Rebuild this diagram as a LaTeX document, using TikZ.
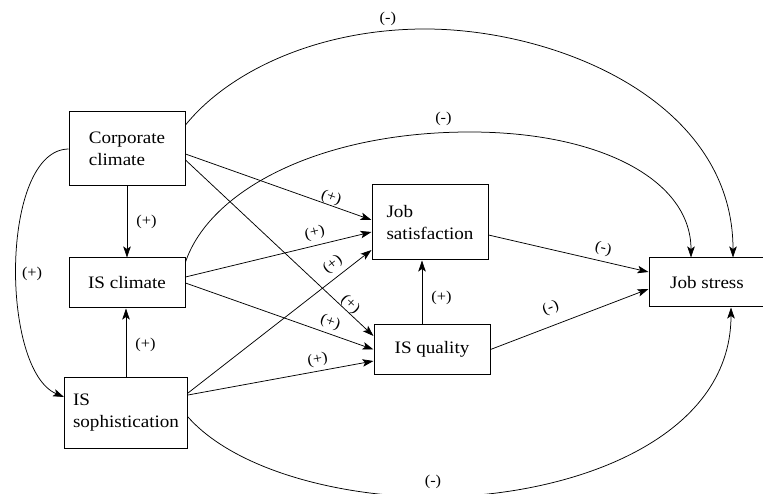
\documentclass[tikz,border=0pt]{standalone}
\usepackage{fontspec}
\setmainfont{Liberation Serif}[FakeStretch=1.09]
\usetikzlibrary{arrows.meta}
\usetikzlibrary{positioning}
\tikzstyle{factor} = [rectangle, draw=black, line width=1pt, minimum height=50pt, align=left, font=\fontsize{17.5}{22}\selectfont]
\tikzstyle{sign} = [font=\fontsize{15}{16}\selectfont, inner sep=1pt]
\tikzstyle{effect} = [line width=0.75pt, -{Stealth[length=11pt,width=7.5pt,inset=2.5pt]}]

\begin{document}
\begin{tikzpicture}[x=1pt, y=-1pt]
  \useasboundingbox (0,0) rectangle (763,494);

  \node (cc) [factor, minimum width=116pt, minimum height=74pt] at (127,149) {Corporate\\climate};
  \node (isc) [factor, minimum width=116pt] at (127,283) {IS climate};
  \node (iss) [factor, minimum width=123pt, minimum height=71pt] at (126,412.5) {IS\\sophistication};
  \node (js) [factor, minimum width=116pt, minimum height=75pt] at (430,222.5) {Job\\satisfaction};
  \node (isq) [factor, minimum width=116pt, minimum height=49pt] at (432,349.5) {IS quality};
  \node (jst) [factor, minimum width=116pt, minimum height=49pt] at (707,282.5) {Job stress};

  % vertical links
  \draw[effect] (cc) -- (isc) node[sign, midway, right=8pt] {(+)};
  \draw[effect] (iss.north) -- (iss.north |- isc.south) node[sign, pos=0.46, right=8pt] {(+)};
  \draw[effect] ([xshift=-10pt]isq.north) -- ([xshift=-10pt]isq.north |- js.south) node[sign, pos=0.42, right=8pt] {(+)};

  % into job satisfaction and IS quality
  \draw[effect] ([yshift=-5pt]cc.east) -- ([yshift=2.5pt]js.west) node[sign, pos=0.77, sloped, above=-1pt] {(+)};
  \draw[effect] ([yshift=-11pt]cc.east) -- ([yshift=13.5pt]isq.west) node[sign, pos=0.85, sloped, above=-1pt] {(+)};
  \draw[effect] ([yshift=6pt]isc.east) -- ([yshift=-9.5pt]js.west) node[sign, pos=0.71, sloped, above=4pt] {(+)};
  \draw[effect] (isc.east) -- (isq.west) node[sign, pos=0.75, sloped, above=3pt] {(+)};
  \draw[effect] ([yshift=19.5pt]iss.east) -- ([yshift=-27.5pt]js.west) node[sign, pos=0.83, sloped, above=4pt] {(+)};
  \draw[effect] ([yshift=17.5pt]iss.east) -- ([yshift=-11.5pt]isq.west) node[sign, pos=0.71, sloped, above=3pt] {(+)};

  % into job stress
  \draw[effect] ([yshift=-12.5pt]js.east) -- ([yshift=10.5pt]jst.west) node[sign, pos=0.7, sloped, above=4pt] {(-)};
  \draw[effect] (isq.east) -- ([yshift=-6.5pt]jst.west) node[sign, pos=0.42, sloped, above=9pt] {(-)};

  % long curves
  \draw[effect] ([yshift=24pt]cc.east) .. controls (230,70) and (320,29) .. (425,29) node[sign, pos=0.88, above=4pt] {(-)}
    .. controls (555,29) and (733,100) .. ([xshift=26pt]jst.north);
  \draw[effect] ([yshift=21pt]isc.east) .. controls (210,190) and (320,132) .. (470,132) node[sign, pos=0.94, above=6pt] {(-)}
    .. controls (600,132) and (691,180) .. ([xshift=-16pt]jst.north);
  \draw[effect] ([yshift=-4.5pt]iss.east) .. controls (235,470) and (340,497) .. (433,497) node[sign, above=7pt] {(-)}
    .. controls (570,497) and (731,440) .. ([xshift=24pt]jst.south);
  \draw[effect] (cc.west) .. controls (0,150) and (0,370) .. ([yshift=15.5pt]iss.west) node[sign, pos=0.53, right=4pt] {(+)};
\end{tikzpicture}
\end{document}
